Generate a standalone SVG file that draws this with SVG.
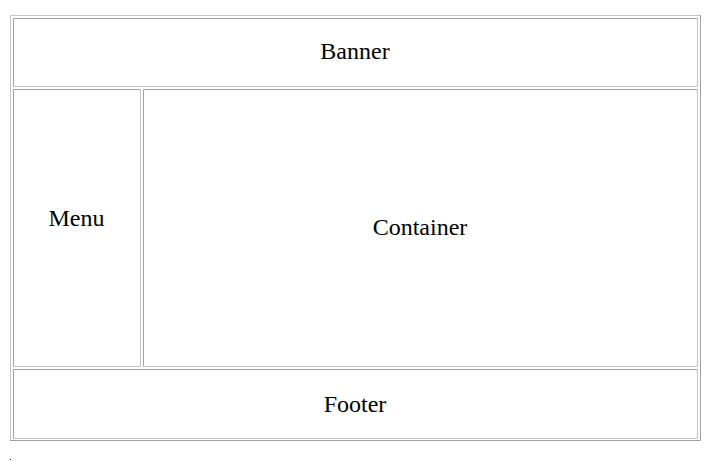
<svg xmlns="http://www.w3.org/2000/svg" width="711" height="461" viewBox="0 0 711 461">
<style>
.lt{fill:none;stroke:#c4c4c4;stroke-width:1}
.dk{fill:none;stroke:#a0a0a0;stroke-width:1}
.t{font-family:"Liberation Serif","Times New Roman",serif;font-size:24px;fill:#000;text-anchor:middle}
</style>
<rect width="711" height="461" fill="#fff"/>
<g id="table">
<path class="lt" d="M10.5,440 V15.5 H700"/>
<path class="dk" d="M700.5,15 V440.5 H10"/>
</g>
<g id="banner">
<path class="dk" d="M13.5,86 V18.5 H697"/>
<path class="lt" d="M697.5,18 V86.5 H13"/>
<text class="t" x="355" y="59">Banner</text>
</g>
<g id="menu">
<path class="dk" d="M13.5,366 V89.5 H140"/>
<path class="lt" d="M140.5,89 V366.5 H13"/>
<text class="t" x="76.5" y="226">Menu</text>
</g>
<g id="container">
<path class="dk" d="M143.5,366 V89.5 H697"/>
<path class="lt" d="M697.5,89 V366.5 H143"/>
<text class="t" x="420" y="235">Container</text>
</g>
<g id="footer">
<path class="dk" d="M13.5,438 V369.5 H697"/>
<path class="lt" d="M697.5,369 V438.5 H13"/>
<text class="t" x="355" y="412">Footer</text>
</g>
<g id="connectors"></g>
<rect x="10" y="459" width="1" height="1" fill="#333"/>
</svg>
